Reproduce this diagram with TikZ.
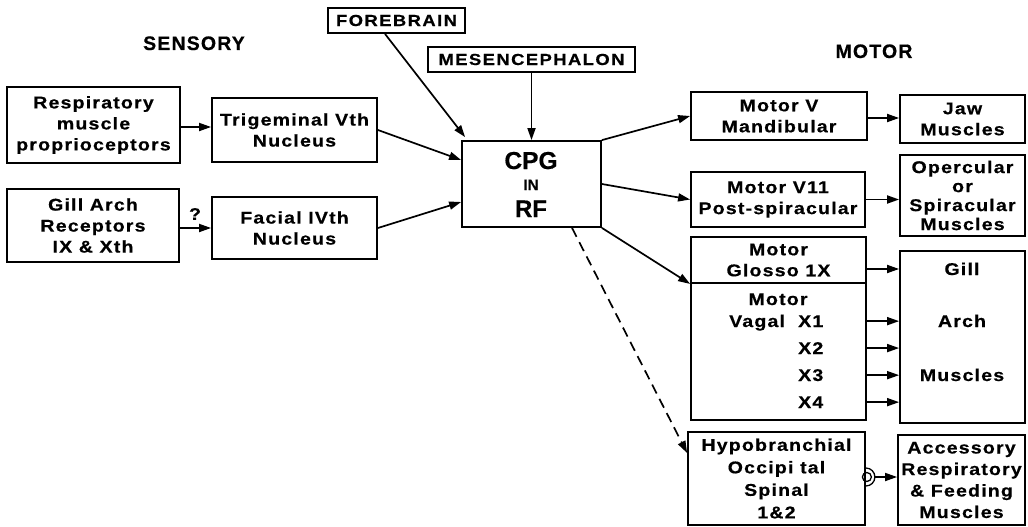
\documentclass[tikz,border=0pt]{standalone}
\usepackage{fontspec}
\newfontfamily\lbfont{Liberation Sans}[LetterSpace=7, FakeStretch=1.15, FakeBold=0.5]
\newfontfamily\hdfont{Liberation Sans}[LetterSpace=9, FakeStretch=1.15, FakeBold=0.5]
\newfontfamily\ttlfont{Liberation Sans}[LetterSpace=6, FakeBold=0.5]
\newfontfamily\plfont{Liberation Sans}[FakeBold=0.5]
\usetikzlibrary{arrows.meta,calc}
\newcommand\bx[7]{\node[box,#6, minimum width={#4-#2}, minimum height={#5-#3}] (#1) at ({(#2+#4)/2},{(#3+#5)/2}) {#7};}
\begin{document}
\begin{tikzpicture}[x=1pt,y=-1pt,
  box/.style={draw, line width=1.8pt, inner sep=0pt, align=center,
    font=\lbfont\bfseries\fontsize{17}{21}\selectfont},
  txt/.style={inner sep=0pt, font=\lbfont\bfseries\fontsize{17}{21}\selectfont},
  hd/.style={font=\hdfont\bfseries\fontsize{16}{19}\selectfont},
  ttl/.style={inner sep=0pt, font=\ttlfont\bfseries\fontsize{19.5}{22}\selectfont},
  arr/.style={-{Triangle[length=12pt,width=8pt]}, line width=1.7pt},
  darr/.style={arr, dash pattern=on 10pt off 6pt}]
\fill[white] (0,0) rectangle (1028,527);
\useasboundingbox (0,0) rectangle (1028,527);
% titles
\node[ttl, anchor=base] (sens) at (194,50) {SENSORY};
\node[ttl, anchor=base] (mot) at (874,58) {MOTOR};
% top boxes
\bx{fore}{328}{8}{465}{33}{hd}{FOREBRAIN}
\bx{mes}{428}{47}{635}{72}{hd}{MESENCEPHALON}
% sensory
\bx{resp}{7}{87}{180}{163}{}{Respiratory\\muscle\\proprioceptors}
\bx{trig}{212}{98}{377}{162}{}{Trigeminal Vth\\Nucleus}
\bx{gill}{7}{189}{179}{262}{}{Gill Arch\\Receptors\\IX \& Xth}
\bx{fac}{212}{197}{377}{259}{}{Facial IVth\\Nucleus}
\node[txt] (q) at (195,214) {?};
% CPG
\bx{cpg}{462}{141}{601}{227}{}{}
\node[inner sep=0pt, anchor=base, font=\plfont\bfseries\fontsize{24.5}{26}\selectfont] (cpgt) at (531,169) {CPG};
\node[inner sep=0pt, anchor=base, font=\plfont\bfseries\fontsize{15}{17}\selectfont] (cpgi) at (531,190) {IN};
\node[inner sep=0pt, anchor=base, font=\plfont\bfseries\fontsize{24}{26}\selectfont] (cpgr) at (531,217) {RF};
% motor
\bx{mv}{691}{92}{867}{140}{}{Motor V\\Mandibular}
\bx{jaw}{900}{95}{1025}{143}{}{Jaw\\Muscles}
\bx{mv11}{691}{172}{865}{227}{}{Motor V11\\Post-spiracular}
\bx{oper}{900}{155}{1025}{236}{font=\lbfont\bfseries\fontsize{17}{19}\selectfont}{Opercular\\or\\Spiracular\\Muscles}
\bx{glosso}{691}{237}{866}{283}{}{Motor\\Glosso 1X}
\bx{vagal}{691}{283}{866}{420}{}{}
\node[txt, anchor=base] (vmot) at (778,305) {Motor};
\node[txt, anchor=base west] (vgl) at (729,327) {Vagal};
\node[txt, anchor=base west] (vx1) at (798,327) {X1};
\node[txt, anchor=base west] (vx2) at (798,354) {X2};
\node[txt, anchor=base west] (vx3) at (798,381) {X3};
\node[txt, anchor=base west] (vx4) at (798,408) {X4};
\bx{gam}{900}{251}{1025}{423}{}{}
\node[txt, anchor=base] (gamg) at (962,275) {Gill};
\node[txt, anchor=base] (gama) at (962,327) {Arch};
\node[txt, anchor=base] (gamm) at (962,381) {Muscles};
\bx{hypo}{688}{432}{865}{525}{font=\lbfont\bfseries\fontsize{17}{22.5}\selectfont}{Hypobranchial\\Occipi tal\\Spinal\\1\&2}
\bx{acc}{898}{435}{1025}{525}{font=\lbfont\bfseries\fontsize{17}{21.5}\selectfont}{Accessory\\Respiratory\\\& Feeding\\Muscles}
% connectors
\draw[arr] ([yshift=-2pt]resp.east) -- ([yshift=-2pt]resp.east -| trig.west);
\draw[arr] (gill.east |- fac.west) -- (fac.west);
\draw[arr] (trig.east) -- ([yshift=24pt]cpg.west);
\draw[arr] (fac.east) -- ([yshift=-18pt]cpg.west);
\draw[arr] ([xshift=-11.5pt]fore.south) -- ([xshift=4pt,yshift=3pt]cpg.north west);
\draw[arr] (mes.south) -- (cpg.north);
\draw[arr] (cpg.north east) -- (mv.west);
\draw[arr] (cpg.east) -- (mv11.west);
\draw[arr] (cpg.south east) -- (glosso.south west);
\draw[darr] ([xshift=40.5pt]cpg.south) -- ([yshift=25.5pt]hypo.west);
\draw[arr] ([yshift=-2pt]mv.east) -- ([yshift=-2pt]mv.east -| jaw.west);
\draw[arr] (mv11.east) -- (mv11.east -| oper.west);
\draw[arr] ([yshift=-9pt]glosso.east) -- ([yshift=-9pt]glosso.east -| gam.west);
\draw[arr] (vagal.east |- vx1) -- (gam.west |- vx1);
\draw[arr] (vagal.east |- vx2) -- (gam.west |- vx2);
\draw[arr] (vagal.east |- vx3) -- (gam.west |- vx3);
\draw[arr] (vagal.east |- vx4) -- (gam.west |- vx4);
\draw[line width=1.3pt] ([yshift=1.5pt]hypo.east) ++(0pt,9pt) arc[start angle=90, end angle=-90, radius=9pt];
\draw[line width=1.3pt] ([xshift=1pt,yshift=1.5pt]hypo.east) circle[radius=4.5pt];
\draw[arr] ([xshift=9pt,yshift=1.5pt]hypo.east) -- ([yshift=1.5pt]hypo.east -| acc.west);
\end{tikzpicture}
\end{document}
